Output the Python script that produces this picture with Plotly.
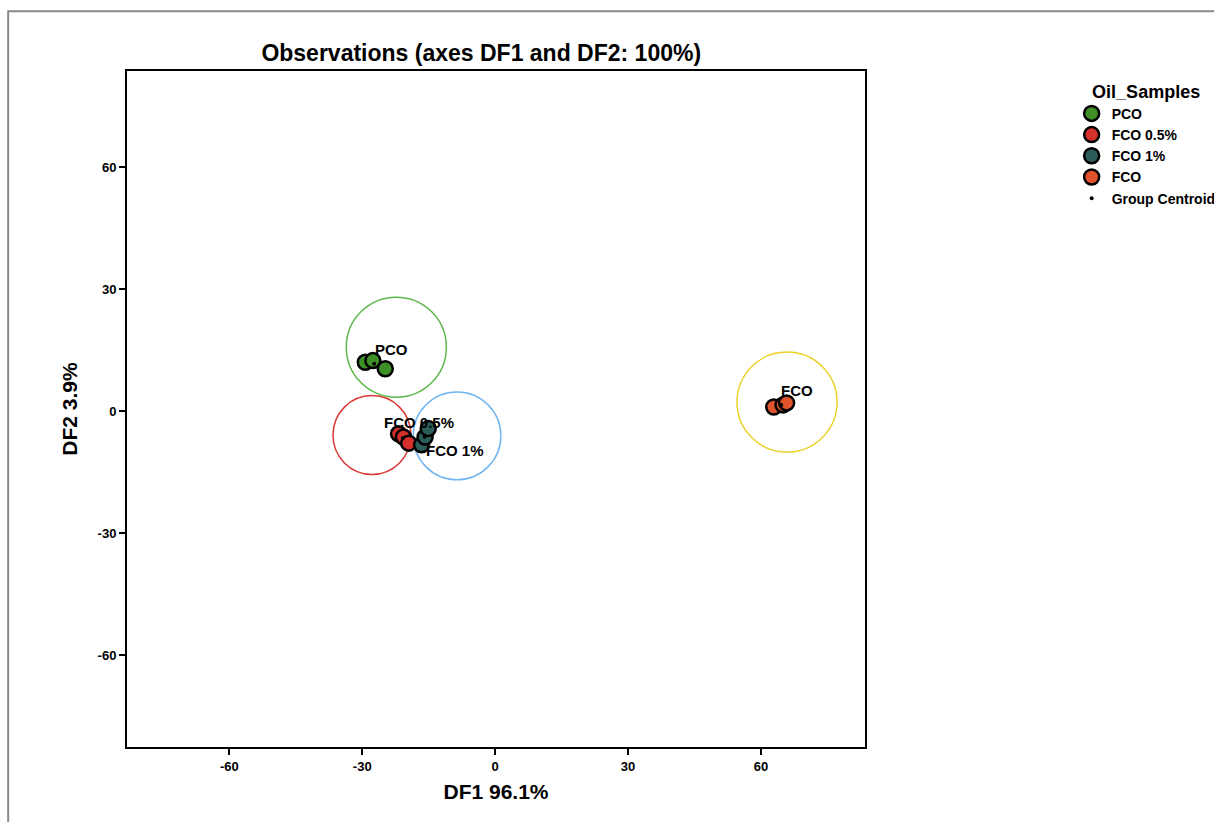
import plotly.graph_objects as go

# ---- data ----
groups = ["PCO", "FCO 0.5%", "FCO 1%", "FCO"]
pco_x = [-29.3, -27.6, -24.8]
pco_y = [12.0, 12.4, 10.4]
fco05_x = [-21.8, -20.7, -19.5]
fco05_y = [-5.6, -6.4, -7.9]
fco1_x = [-16.6, -15.8, -15.1]
fco1_y = [-8.3, -6.4, -4.3]
fco_x = [62.9, 65.0, 65.8]
fco_y = [1.0, 1.5, 2.0]
centroid_x = [-27.3, -20.8, -15.9, 64.6]
centroid_y = [11.6, -6.6, -6.3, 1.5]
# confidence circle centres and radii (in axis units, x and y)
circle_cx = [-22.3, -27.8, -8.6, 65.9]
circle_cy = [15.7, -5.9, -6.1, 2.2]
circle_rx = [11.3, 8.8, 9.9, 11.3]
circle_ry = [12.3, 9.7, 10.8, 12.3]
tick_vals = [-60, -30, 0, 30, 60]
tick_text = ["-60", "-30", "0", "30", "60"]

# ---- styles ----
point_colors = ["#3f8f27", "#d6302c", "#2d5d59", "#e0532d"]
circle_colors = ["#5cb84a", "#d83a36", "#72b6f2", "#ecd12a"]
label_shifts = [(17, 14), (16, 15), (30, -14), (16, 14)]
FONT = "Liberation Sans, Arial, sans-serif"

xs = [pco_x, fco05_x, fco1_x, fco_x]
ys = [pco_y, fco05_y, fco1_y, fco_y]

fig = go.Figure()
for g, x, y, c in zip(groups, xs, ys, point_colors):
    fig.add_trace(go.Scatter(
        x=x, y=y, mode="markers", name=g,
        marker=dict(size=15, color=c, line=dict(color="black", width=2.5)),
    ))
fig.add_trace(go.Scatter(
    x=centroid_x, y=centroid_y, mode="markers", name="Group Centroid",
    marker=dict(size=4, color="black"),
))

shapes = []
for cx, cy, rx, ry, col in zip(circle_cx, circle_cy, circle_rx, circle_ry, circle_colors):
    shapes.append(dict(type="circle", xref="x", yref="y",
                       x0=cx - rx, x1=cx + rx, y0=cy - ry, y1=cy + ry,
                       line=dict(color=col, width=1.5), layer="below"))
# outer frame of the whole figure
shapes.append(dict(type="rect", xref="paper", yref="paper",
                   x0=-0.161, x1=1.6, y0=1.0885, y1=-0.2,
                   line=dict(color="#8a8a8a", width=2)))

annotations = []
for g, cx, cy, (dx, dy) in zip(groups, centroid_x, centroid_y, label_shifts):
    annotations.append(dict(x=cx, y=cy, xref="x", yref="y", text=g,
                            showarrow=False, xshift=dx, yshift=dy,
                            font=dict(family=FONT, size=15, color="black", weight="bold")))

fig.update_layout(
    width=1214, height=822,
    margin=dict(l=127, r=349, t=71, b=75, autoexpand=False),
    paper_bgcolor="white", plot_bgcolor="white",
    title=dict(text="Observations (axes DF1 and DF2: 100%)", xref="paper", x=0.48,
               xanchor="center", yref="container", y=1 - 53 / 822, yanchor="middle",
               font=dict(family=FONT, size=23, color="black", weight="bold")),
    shapes=shapes, annotations=annotations,
    showlegend=True,
    legend=dict(x=1.28, y=0.995, xanchor="left", yanchor="top",
                title=dict(text="Oil_Samples", side="top center",
                           font=dict(family=FONT, size=18, color="black", weight="bold")),
                font=dict(family=FONT, size=14, color="black", weight="bold"),
                tracegroupgap=0, itemwidth=30, bgcolor="rgba(0,0,0,0)"),
)
axis_common = dict(showgrid=False, zeroline=False, showline=True, mirror=True,
                   linecolor="black", linewidth=2, ticks="outside", ticklen=6,
                   tickwidth=2, tickcolor="black", tickvals=tick_vals, ticktext=tick_text,
                   tickfont=dict(family=FONT, size=13, color="black", weight="bold"))
fig.update_xaxes(range=[-83.1, 83.5], title=dict(text="DF1 96.1%", standoff=12,
                 font=dict(family=FONT, size=21, color="black", weight="bold")), **axis_common)
fig.update_yaxes(range=[-82.6, 83.6], title=dict(text="DF2 3.9%", standoff=14,
                 font=dict(family=FONT, size=21, color="black", weight="bold")), **axis_common)

fig.write_html("out.html")
